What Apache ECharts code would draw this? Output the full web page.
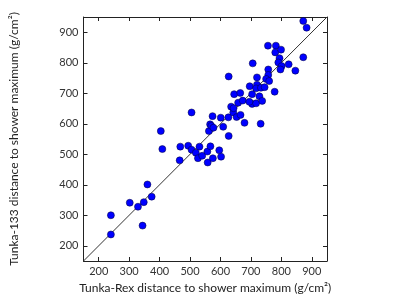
<!DOCTYPE html>
<html><head><meta charset="utf-8">
<script src="https://cdn.jsdelivr.net/npm/echarts@6/dist/echarts.min.js"></script>
<style>html,body{margin:0;padding:0;background:#fff}#c{width:407px;height:305px}</style>
</head><body><div id="c"></div>
<script>
const rexXmax = [240,240,302,329,348,344,360,374,404,409,466,468,494,505,519,526,531,540,557,558,567,575,596,602,505,562,566,570,574,577,601,609,627,627,626,635,642,643,645,653,658,665,666,673,679,696,704,706,704,717,720,720,728,732,872,883,756,782,780,799,794,790,801,797,824,872,846,757,757,750,760,717,733,745,778,737,695];
const tunkaXmax = [237,300,341,328,343,266,401,361,576,517,480,525,528,515,505,487,525,495,509,473,526,487,513,492,637,576,598,593,625,587,620,590,755,560,621,656,637,651,697,622,669,701,629,676,603,723,697,798,665,667,752,728,690,600,937,915,856,856,834,843,815,801,789,778,795,818,774,778,760,747,740,716,718,720,705,675,672];
const axisMin = 150, axisMax = 950;
const tickValues = [200,300,400,500,600,700,800,900];
const diagLine = [[150,150],[950,950]];
const xTitle = 'Tunka-Rex distance to shower maximum (g/cm²)';
const yTitle = 'Tunka-133 distance to shower maximum (g/cm²)';

const pts = rexXmax.map((x,i)=>[x,tunkaXmax[i]]);
const font = 'Lato';
const lineStyle = {color:'#222', width:1};
function ax(pos, show, name, gap){
  return {
    type:'value', min:axisMin, max:axisMax, position:pos,
    axisLine:{show:true, onZero:false, lineStyle},
    axisTick:{show:true, inside:true, length:4, lineStyle, customValues:tickValues},
    splitLine:{show:false},
    axisLabel:{show:show, color:'#333', fontFamily:font, fontSize:11, margin:5,
      customValues:tickValues},
    name: name, nameLocation:'middle', nameGap:gap,
    nameTextStyle:{color:'#222', fontFamily:font, fontSize:12}
  };
}
const chart = echarts.init(document.getElementById('c'), null, {renderer:'canvas'});
chart.setOption({
  animation:false,
  backgroundColor:'#fff',
  grid:{left:83.5, right:80, top:17, bottom:44, containLabel:false},
  xAxis:[ax('bottom', true, xTitle, 20), ax('top', false, '', 0)],
  yAxis:[ax('left', true, yTitle, 63), ax('right', false, '', 0)],
  series:[
    {type:'line', data:diagLine, showSymbol:false, symbol:'none',
     lineStyle:{color:'#333', width:1}, silent:true, z:1},
    {type:'scatter', data:pts, symbolSize:7,
     itemStyle:{color:'#0000ff', borderColor:'#000033', borderWidth:0.5, opacity:1}, z:2}
  ]
});
</script></body></html>
